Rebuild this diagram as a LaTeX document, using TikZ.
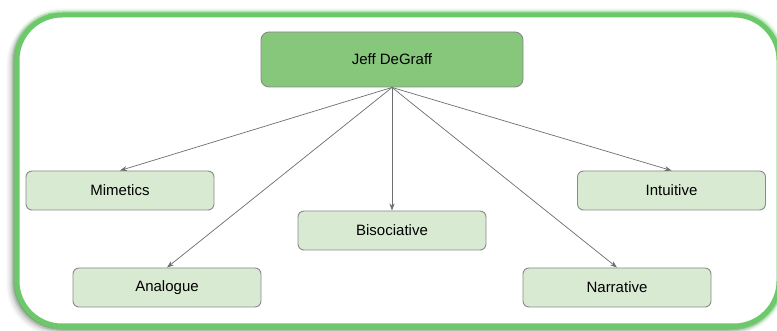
\documentclass[tikz,border=0pt]{standalone}
\usepackage{fontspec}
\setmainfont{Liberation Sans}
\usetikzlibrary{arrows.meta,shadows.blur}
\definecolor{rimgreen}{HTML}{6CC96A}
\definecolor{topgreen}{HTML}{86C77C}
\definecolor{leafgreen}{HTML}{D9EAD3}
\definecolor{edgegrey}{HTML}{8A8A8A}
\definecolor{linkgrey}{HTML}{6E6E6E}
\tikzset{
  rootbox/.style={draw=edgegrey, line width=0.9pt, fill=topgreen, rounded corners=8pt,
    minimum width=262pt, minimum height=55pt, font=\fontsize{15}{18}\selectfont},
  leafbox/.style={draw=edgegrey, line width=0.9pt, fill=leafgreen, rounded corners=6pt,
    minimum width=188pt, minimum height=39pt, font=\fontsize{15}{18}\selectfont},
  link/.style={draw=linkgrey, line width=0.7pt, -{Stealth[length=7pt,width=5pt]}}
}
\begin{document}
\begin{tikzpicture}[x=1pt,y=-1pt]
\useasboundingbox (0,0) rectangle (777,331);
\clip (0,0) rectangle (777,331);
% soft green glow around the frame
\foreach \w/\o in {13/0.10, 10/0.18, 7.5/0.35} {
  \draw[rimgreen, line width=\w pt, opacity=\o, rounded corners=45pt] (17,15) rectangle (779,326);
}
% frame with a grey drop shadow towards the lower left
\draw[rimgreen, line width=5pt, fill=white, rounded corners=45pt,
  blur shadow={shadow xshift=-5pt, shadow yshift=-4pt, shadow blur steps=8, shadow blur radius=6pt, shadow opacity=35}]
  (17,15) rectangle (779,326);

\node[rootbox] (root) at (392,59.5) {Jeff DeGraff};
\node[leafbox] (mim) at (120,190.5) {Mimetics};
\node[leafbox] (ana) at (167,287.5) {Analogue};
\node[leafbox] (bis) at (392,230.5) {Bisociative};
\node[leafbox] (int) at (671.5,190.5) {Intuitive};
\node[leafbox] (nar) at (617,287.5) {Narrative};

\draw[link] (root.south) -- (mim.north);
\draw[link] (root.south) -- (ana.north);
\draw[link] (root.south) -- (bis.north);
\draw[link] (root.south) -- (nar.north);
\draw[link] (root.south) -- (int.north);
\end{tikzpicture}
\end{document}
